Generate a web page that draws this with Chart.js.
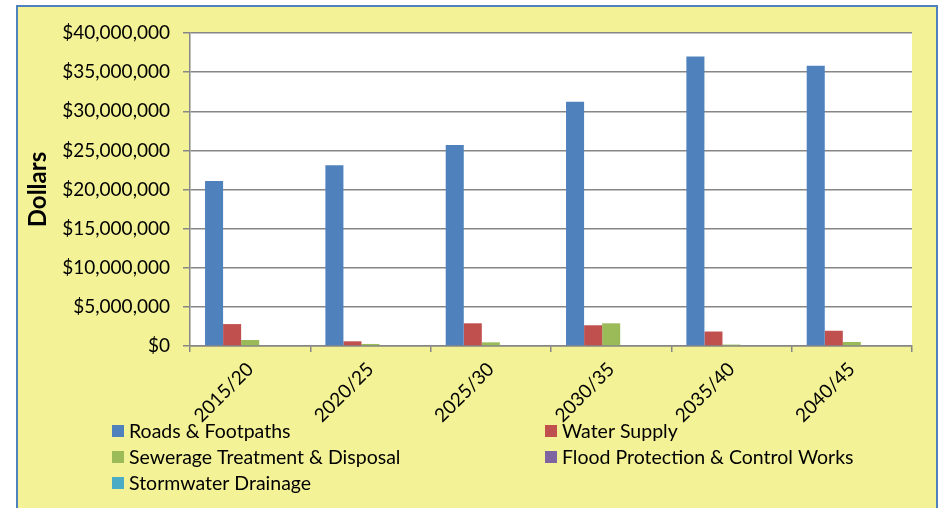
<!DOCTYPE html>
<html>
<head>
<meta charset="utf-8">
<script src="https://cdn.jsdelivr.net/npm/chart.js@4.4.1/dist/chart.umd.min.js"></script>
<style>
html,body{margin:0;padding:0;background:#fff;}
#wrap{position:relative;width:941px;height:508px;}
</style>
</head>
<body>
<div id="wrap"><canvas id="grafica" width="941" height="508"></canvas></div>
<script>
// periods and spending per asset class (dollars)
let periodos = ["2015/20","2020/25","2025/30","2030/35","2035/40","2040/45"]
let roads = [21100000,23100000,25700000,31200000,37000000,35800000]
let water = [2800000,600000,2900000,2650000,1850000,1950000]
let sewerage = [770000,260000,470000,2900000,180000,510000]
let flood = [0,0,0,0,0,0]
let stormwater = [0,0,0,0,0,0]

let nombres = ["Roads & Footpaths","Water Supply","Sewerage Treatment & Disposal","Flood Protection & Control Works","Stormwater Drainage"]
let colores = ["#4F81BD","#C0504D","#9BBB59","#8064A2","#4BACC6"]

let fuente = "Lato, 'DejaVu Sans', sans-serif"
let gris = "#868686"

// yellow panel with blue border + white plot area
const fondo = {
  id:'fondo',
  beforeDraw(chart){
    let ctx = chart.ctx
    let a = chart.chartArea
    ctx.save()
    ctx.fillStyle = "#fff"
    ctx.fillRect(0,0,chart.width,chart.height)
    ctx.fillStyle = "#F3F297"
    ctx.fillRect(17,6,920,510)
    ctx.strokeStyle = "#4F81BD"
    ctx.lineWidth = 2
    ctx.strokeRect(17,6,920,510)
    ctx.fillStyle = "#fff"
    ctx.fillRect(a.left,a.top,a.right-a.left,a.bottom-a.top)
    ctx.restore()
  }
}

// two column legend under the axis
const leyenda = {
  id:'leyenda',
  afterDraw(chart){
    let ctx = chart.ctx
    let cols = [112,545]
    let filas = [431,457,483]
    ctx.save()
    ctx.font = "19.5px " + fuente
    ctx.textBaseline = "middle"
    ctx.textAlign = "left"
    chart.data.datasets.forEach((ds,i)=>{
      let x = cols[i%2]
      let y = filas[Math.floor(i/2)]
      ctx.fillStyle = ds.backgroundColor
      ctx.fillRect(x,y-6,12,12)
      ctx.fillStyle = "#000"
      ctx.fillText(ds.label,x+17,y+1)
    })
    ctx.restore()
  }
}

let series = [roads,water,sewerage,flood,stormwater]

let chart = new Chart(document.getElementById("grafica"),{
  type:'bar',
  data:{
    labels:periodos,
    datasets:series.map((d,i)=>({
      label:nombres[i],
      data:d,
      backgroundColor:colores[i],
      borderWidth:0,
      categoryPercentage:0.75,
      barPercentage:1.0
    }))
  },
  options:{
    responsive:false,
    animation:false,
    layout:{padding:{left:0,top:33,right:29,bottom:0}},
    plugins:{
      legend:{display:false},
      tooltip:{enabled:false}
    },
    scales:{
      x:{
        grid:{display:true,drawOnChartArea:false,drawTicks:true,tickLength:6,color:gris,lineWidth:1.5},
        border:{color:gris,width:1.5},
        ticks:{color:"#000",font:{family:fuente,size:19},maxRotation:45,minRotation:45,padding:6},
        afterFit(s){ s.height = 162 }
      },
      y:{
        min:0,
        max:40000000,
        grid:{color:gris,lineWidth:1.5,tickLength:7},
        border:{color:gris,width:1.5},
        ticks:{
          stepSize:5000000,
          color:"#000",
          padding:13,
          font:{family:fuente,size:19},
          callback:v=>"$"+v.toLocaleString("en-US")
        },
        title:{display:true,text:"Dollars",color:"#000",font:{family:fuente,size:24,weight:'bold'},padding:{top:24,bottom:0}},
        afterFit(s){ s.width = 190 }
      }
    }
  },
  plugins:[fondo,leyenda]
})
</script>
</body>
</html>
